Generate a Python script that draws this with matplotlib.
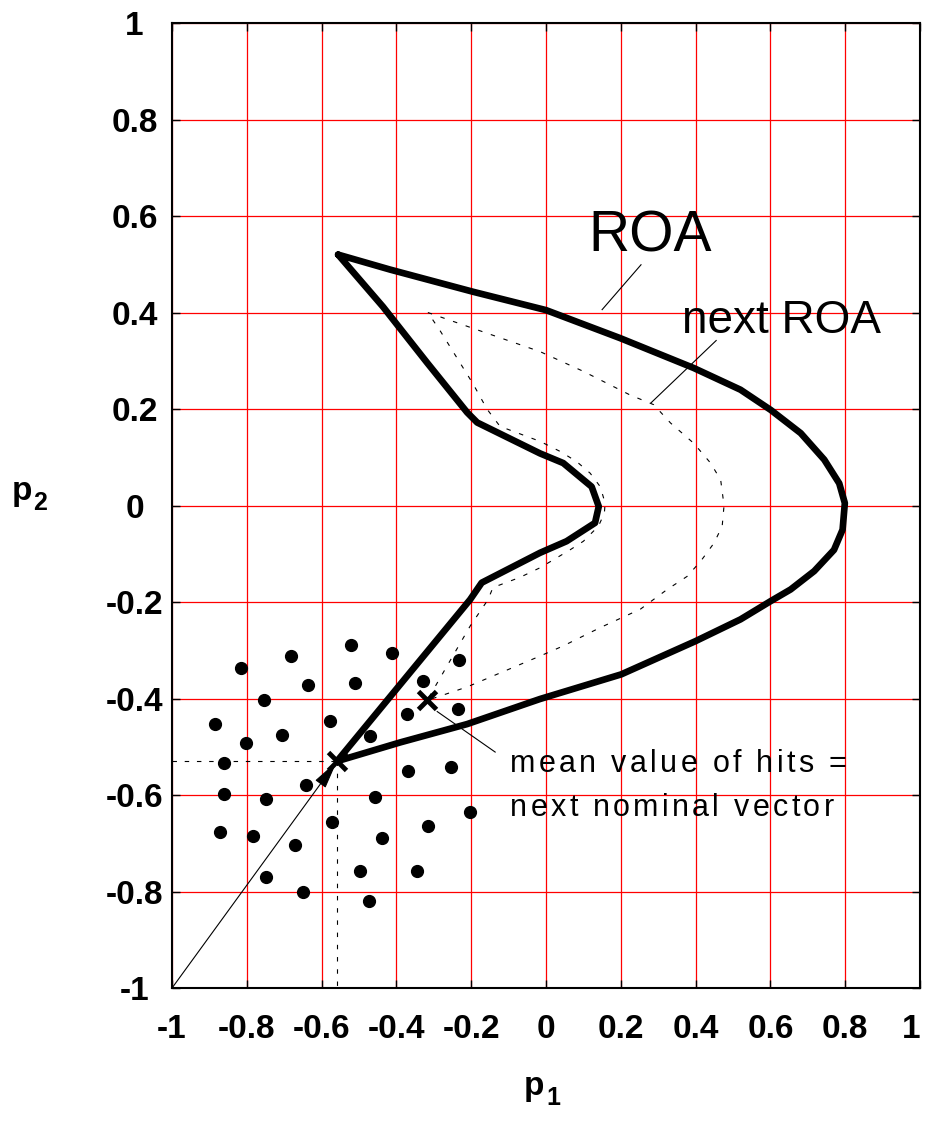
import numpy as np
import matplotlib
matplotlib.use("Agg")
import matplotlib.pyplot as plt
from matplotlib import transforms

plt.rcParams['font.family'] = ['Liberation Sans', 'DejaVu Sans']

# ticks
tick_vals = [-1, -0.8, -0.6, -0.4, -0.2, 0, 0.2, 0.4, 0.6, 0.8, 1]
tick_labels = ['-1', '-0.8', '-0.6', '-0.4', '-0.2', '0', '0.2', '0.4', '0.6', '0.8', '1']

# region of attraction (thick outline)
roa_x = [-0.556, -0.417, -0.195, 0.000, 0.198, 0.395, 0.520, 0.601, 0.681, 0.744,
         0.784, 0.799, 0.793, 0.770, 0.717, 0.654, 0.601, 0.520, 0.400, 0.201,
         -0.016, -0.211, -0.390, -0.559,
         -0.203, -0.172, -0.016, 0.055, 0.131, 0.141, 0.122, 0.046, -0.016,
         -0.184, -0.211, -0.318, -0.436, -0.556]
roa_y = [0.520, 0.489, 0.443, 0.405, 0.347, 0.285, 0.240, 0.198, 0.150, 0.095,
         0.046, 0.005, -0.050, -0.092, -0.136, -0.174, -0.198, -0.236, -0.281, -0.350,
         -0.401, -0.453, -0.491, -0.530,
         -0.195, -0.160, -0.098, -0.074, -0.036, -0.002, 0.039, 0.088, 0.108,
         0.172, 0.193, 0.296, 0.412, 0.520]

# next region of attraction (thin dashed)
next_x = [-0.316, -0.176, -0.016, 0.100, 0.225, 0.288, 0.333, 0.395, 0.440, 0.467,
          0.476, 0.471, 0.449, 0.413, 0.377, 0.324, 0.252, 0.145, 0.046, -0.016,
          -0.211, -0.318,
          -0.203, -0.155, -0.142, -0.070, -0.016, 0.064, 0.100, 0.140, 0.156, 0.158,
          0.145, 0.118, 0.082, 0.038, -0.016, -0.123, -0.158, -0.195, -0.283, -0.316]
next_y = [0.400, 0.362, 0.319, 0.278, 0.229, 0.209, 0.171, 0.129, 0.088, 0.053,
          0.000, -0.043, -0.078, -0.116, -0.147, -0.174, -0.215, -0.253, -0.291, -0.312,
          -0.376, -0.404,
          -0.250, -0.195, -0.170, -0.149, -0.129, -0.092, -0.074, -0.043, -0.016, 0.005,
          0.039, 0.067, 0.091, 0.112, 0.133, 0.164, 0.200, 0.252, 0.362, 0.400]

# hits
hits_x = [-0.522, -0.413, -0.682, -0.816, -0.233, -0.636, -0.510, -0.330, -0.754, -0.886,
          -0.578, -0.371, -0.236, -0.707, -0.470, -0.801, -0.861, -0.368, -0.253, -0.643,
          -0.861, -0.750, -0.456, -0.202, -0.572, -0.316, -0.873, -0.784, -0.439, -0.672,
          -0.497, -0.344, -0.750, -0.649, -0.473]
hits_y = [-0.290, -0.306, -0.311, -0.336, -0.321, -0.371, -0.367, -0.364, -0.403, -0.452,
          -0.446, -0.432, -0.422, -0.475, -0.478, -0.493, -0.534, -0.550, -0.542, -0.579,
          -0.597, -0.609, -0.605, -0.636, -0.656, -0.664, -0.677, -0.685, -0.690, -0.703,
          -0.757, -0.757, -0.769, -0.802, -0.819]

nominal = (-0.559, -0.530)
next_nominal = (-0.318, -0.404)


def texto_espacado(ax, x, y, s, extra_px, **kw):
    # text with extra spacing between letters
    fig = ax.figure
    r = fig.canvas.get_renderer()
    t0 = fig.text(0, 0, '||', **kw)
    w0 = t0.get_window_extent(r).width
    t0.remove()
    for i, ch in enumerate(s):
        if ch == ' ':
            continue
        t = fig.text(0, 0, '|' + s[:i] + '|', **kw)
        dx = t.get_window_extent(r).width - w0
        t.remove()
        tr = transforms.offset_copy(ax.transData, fig=fig, x=dx + i * extra_px, y=0, units='dots')
        ax.text(x, y, ch, transform=tr, **kw)


fig = plt.figure(figsize=(9.25, 11.24), dpi=100)
ax = fig.add_axes([0.186, 0.121, 0.8086, 0.8585])
ax.set_xlim(-1, 1)
ax.set_ylim(-1, 1)

ax.set_xticks(tick_vals)
ax.set_xticklabels(tick_labels)
ax.set_yticks(tick_vals)
ax.set_yticklabels(tick_labels)
ax.grid(True, color='#ff0000', lw=0.9)
ax.set_axisbelow(True)
ax.tick_params(direction='in', length=6, width=1, top=True, right=True,
               labelsize=24, colors='k')
ax.tick_params(axis='x', pad=19)
ax.tick_params(axis='y', pad=27)
for lab in ax.get_xticklabels() + ax.get_yticklabels():
    lab.set_fontweight('bold')
for lab in ax.get_yticklabels():
    lab.set_ha('center')
ax.get_xticklabels()[-1].set_ha('right')
for sp in ax.spines.values():
    sp.set_linewidth(1.5)

# crosshair to the nominal vector
ax.plot([-1, nominal[0]], [nominal[1], nominal[1]], color='k', lw=0.8, ls=(0, (4, 7)))
ax.plot([nominal[0], nominal[0]], [nominal[1], -1], color='k', lw=0.8, ls=(0, (4, 7)))

# arrow from the lower left corner
ax.annotate('', xy=nominal, xytext=(-1, -1),
            arrowprops=dict(arrowstyle='-|>,head_length=0.9,head_width=0.2',
                            lw=0.8, color='k', shrinkA=0, shrinkB=0, mutation_scale=20))

ax.plot(next_x, next_y, color='k', lw=0.8, ls=(0, (4, 8)))
ax.plot(roa_x, roa_y, color='k', lw=4.8, solid_joinstyle='round', solid_capstyle='round')

ax.plot(hits_x, hits_y, 'o', color='k', ms=8.5, ls='none')

ax.plot([nominal[0], next_nominal[0]], [nominal[1], next_nominal[1]], 'x',
        color='k', ms=13, mew=3.5, ls='none')

# labels with leader lines
ax.text(0.112, 0.526, 'ROA', fontsize=41)
ax.plot([0.254, 0.150], [0.499, 0.406], color='k', lw=0.8)
ax.text(0.364, 0.358, 'next ROA', fontsize=33)
ax.plot([0.455, 0.281], [0.342, 0.213], color='k', lw=0.8)
ax.plot([-0.291, -0.136], [-0.427, -0.511], color='k', lw=0.8)
texto_espacado(ax, -0.096, -0.553, 'mean value of hits =', 3.3, fontsize=22)
texto_espacado(ax, -0.096, -0.644, 'next nominal vector', 3.3, fontsize=22)

# axis names p2 / p1
fig.text(12 / 925, 1 - 500 / 1124, 'p', fontsize=24, fontweight='bold', ha='left', va='baseline')
fig.text(33 / 925, 1 - 510 / 1124, '2', fontsize=18, fontweight='bold', ha='left', va='baseline')
fig.text(524 / 925, 1 - 1095 / 1124, 'p', fontsize=24, fontweight='bold', ha='left', va='baseline')
fig.text(546 / 925, 1 - 1105 / 1124, '1', fontsize=18, fontweight='bold', ha='left', va='baseline')

fig.savefig('out.png', dpi=100)
